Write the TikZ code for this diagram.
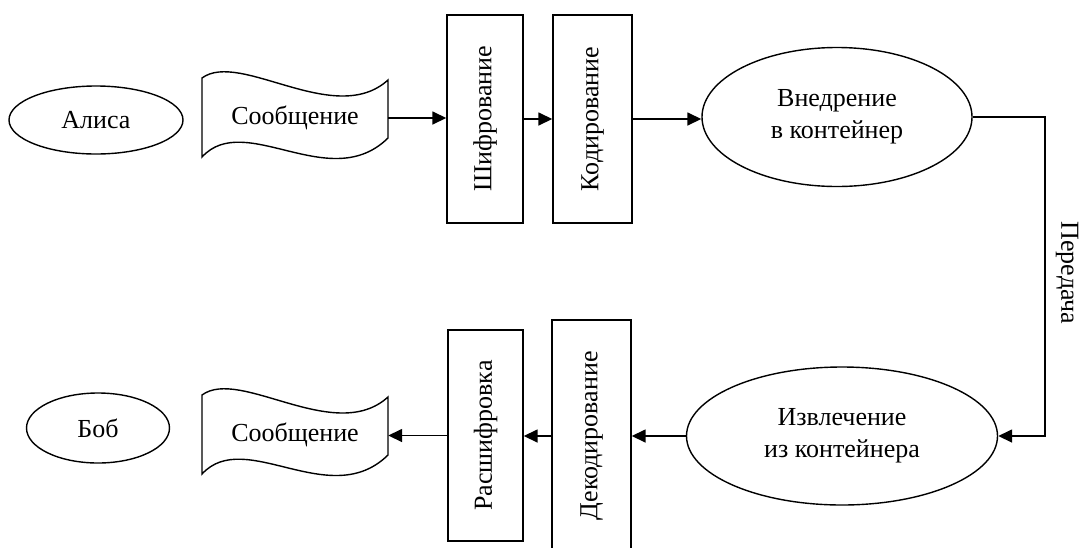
\documentclass[tikz,border=0pt]{standalone}
\usepackage{fontspec}
\setmainfont{Liberation Serif}
\usetikzlibrary{shapes.geometric,arrows.meta,calc}
\begin{document}
\begin{tikzpicture}[x=1pt,y=-1pt,
  every node/.style={font=\fontsize{26}{32}\selectfont},
  oval/.style={draw,ellipse,line width=1.4pt,inner sep=0pt,align=center},
  vbox/.style={draw,rectangle,line width=1.4pt,inner sep=0pt},
  tape/.style={draw,line width=1.4pt},
  conn/.style={line width=1.6pt,-{Triangle[length=14pt,width=13pt]}}]
\useasboundingbox (0,0) rectangle (1081,547);
% Alice, Bob
\node[oval,minimum width=174pt,minimum height=68pt] (alice) at (96,120) {Алиса};
\node[oval,minimum width=143pt,minimum height=70pt] (bob) at (98,428) {Боб};
% messages (punched tape shape)
\draw[tape] (202,78) .. controls (240,50) and (335,128) .. (388,80) -- (388,138)
  .. controls (330,195) and (245,110) .. (202,157) -- cycle;
\node[minimum width=186pt,minimum height=60pt,inner sep=0pt] (msg1) at (295,118) {Сообщение};
\begin{scope}[yshift=-317pt]
\draw[tape] (202,78) .. controls (240,50) and (335,128) .. (388,80) -- (388,138)
  .. controls (330,195) and (245,110) .. (202,157) -- cycle;
\end{scope}
\node[minimum width=186pt,minimum height=60pt,inner sep=0pt] (msg2) at (295,435) {Сообщение};
% upper boxes
\node[vbox,minimum width=76pt,minimum height=208pt] (shif) at (485,119) {};
\node[rotate=90] (shift) at (shif.center) {Шифрование};
\node[vbox,minimum width=79pt,minimum height=208pt] (kod) at (592.5,119) {};
\node[rotate=90] (kodt) at (kod.center) {Кодирование};
% lower boxes
\node[vbox,minimum width=75pt,minimum height=211pt] (rassh) at (485.5,435.5) {};
\node[rotate=90] (rassht) at (rassh.center) {Расшифровка};
\node[vbox,minimum width=79pt,minimum height=232pt] (dekod) at (591.5,436) {};
\node[rotate=90] (dekodt) at (dekod.center) {Декодирование};
% ellipses
\node[oval,minimum width=270pt,minimum height=139pt] (vnedr) at (837,117) {Внедрение\\в контейнер};
\node[oval,minimum width=311pt,minimum height=138pt] (izvl) at (842,436) {Извлечение\\из контейнера};
% connectors
\draw[conn] (msg1.east) -- (msg1.east -| shif.west);
\draw[conn] (shif.east) -- (kod.west);
\draw[conn] (kod.east) -- (kod.east -| vnedr.west);
\coordinate (turn) at (1045,117);
\draw[conn] (vnedr.east) -- (turn) |- (izvl.east);
\node[rotate=-90] (peredacha) at (1067,273) {Передача};
\draw[conn] (izvl.west) -- (izvl.west -| dekod.east);
\draw[conn] (dekod.west) -- (dekod.west -| rassh.east);
\draw[conn] (rassh.west) -- (rassh.west -| msg2.east);
\end{tikzpicture}
\end{document}
